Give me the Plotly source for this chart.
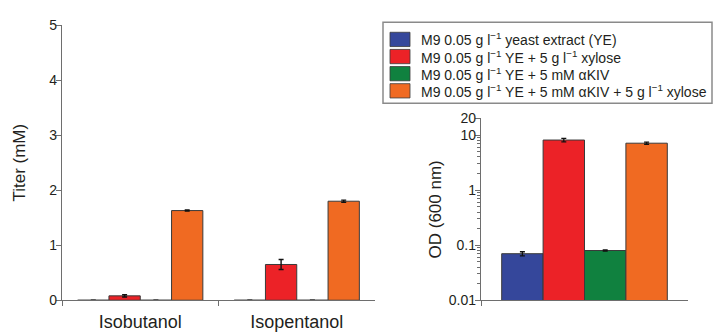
import plotly.graph_objects as go

# Conditions (legend order) and bar colours
conditions = [
    "M9 0.05 g l<sup>−1</sup> yeast extract (YE)",
    "M9 0.05 g l<sup>−1</sup> YE + 5 g l<sup>−1</sup> xylose",
    "M9 0.05 g l<sup>−1</sup> YE + 5 mM αKIV",
    "M9 0.05 g l<sup>−1</sup> YE + 5 mM αKIV + 5 g l<sup>−1</sup> xylose",
]
colors = ["#35479B", "#EC2227", "#10813F", "#F06A22"]

# Alcohol titers (mM) per condition
products = ["Isobutanol", "Isopentanol"]
titer = [
    [0.0, 0.0],
    [0.08, 0.65],
    [0.0, 0.0],
    [1.63, 1.80],
]
titer_err = [
    [0.0, 0.0],
    [0.02, 0.09],
    [0.0, 0.0],
    [0.01, 0.02],
]

# Final cell density OD600 per condition
od_category = ["OD"]
od = [0.070, 8.1, 0.080, 7.1]
od_err = [0.006, 0.6, 0.002, 0.3]

titer_ticks = [0, 1, 2, 3, 4, 5]
od_ticks = [0.01, 0.1, 1, 10, 20]
od_ticktext = ["0.01", "0.1", "1", "10", "20"]
od_minor = [m * d for d in (0.01, 0.1, 1) for m in range(2, 10)]

FONT = "Liberation Sans, Arial, sans-serif"
TXT = "#231F20"
AX = "#6E6E6E"
EDGE = "#3A3A3A"
W, H = 713, 333

fig = go.Figure()

for i, name in enumerate(conditions):
    fig.add_trace(go.Bar(
        x=products, y=titer[i], name=name, showlegend=False,
        marker=dict(color=colors[i], line=dict(color=EDGE, width=1)),
        error_y=dict(type="data", array=titer_err[i], color="#111111",
                     thickness=1.4, width=2.5),
        xaxis="x", yaxis="y", offsetgroup=str(i),
    ))

for i, name in enumerate(conditions):
    fig.add_trace(go.Bar(
        x=od_category, y=[od[i]], name=name, showlegend=False,
        marker=dict(color=colors[i], line=dict(color=EDGE, width=1)),
        error_y=dict(type="data", array=[od_err[i]], color="#111111",
                     thickness=1.3, width=2.5),
        xaxis="x2", yaxis="y2", offsetgroup=str(i),
    ))


def fx(p):
    return p / W


def fy(p):
    return 1 - p / H


# Legend box drawn as shapes + annotations (compact row spacing)
shapes = [dict(type="rect", xref="paper", yref="paper",
               x0=fx(383), x1=fx(712), y0=fy(100), y1=fy(15),
               line=dict(color="#8A8A8A", width=1.5), fillcolor="white")]
annotations = []
row0, row_step = 33, 18
for i, name in enumerate(conditions):
    yc = row0 + i * row_step
    shapes.append(dict(type="rect", xref="paper", yref="paper",
                       x0=fx(390), x1=fx(410), y0=fy(yc + 7.5), y1=fy(yc - 7.5),
                       line=dict(color=EDGE, width=0.8), fillcolor=colors[i]))
    annotations.append(dict(text=name, xref="paper", yref="paper",
                            x=fx(419), y=fy(yc), xanchor="left", yanchor="middle",
                            showarrow=False,
                            font=dict(size=14, family=FONT, color=TXT)))

axis_common = dict(showline=True, linecolor=AX, linewidth=1.3, showgrid=False,
                   zeroline=False, ticks="outside", tickcolor=AX, ticklen=5,
                   tickwidth=1.2)

fig.update_layout(
    width=W, height=H,
    margin=dict(l=0, r=0, t=0, b=0),
    paper_bgcolor="white", plot_bgcolor="white",
    font=dict(family=FONT, color=TXT, size=14),
    barmode="group", bargap=0.2, bargroupgap=0,
    showlegend=False,
    shapes=shapes, annotations=annotations,
    xaxis=dict(domain=[fx(62), fx(375)], anchor="y",
               tickson="boundaries", tickfont=dict(size=18),
               ticklabelstandoff=5, **axis_common),
    yaxis=dict(domain=[fy(307), fy(18)], anchor="x",
               range=[0, 5], tickvals=titer_ticks,
               title=dict(text="Titer (mM)", font=dict(size=17), standoff=19),
               tickfont=dict(size=14), ticklabelstandoff=-4, **axis_common),
    xaxis2=dict(domain=[fx(481), fx(688)], anchor="y2",
                tickson="boundaries", showticklabels=False, **axis_common),
    yaxis2=dict(domain=[fy(307), fy(116)], anchor="x2",
                type="log", range=[-2, 1.30103],
                tickvals=od_ticks, ticktext=od_ticktext,
                minor=dict(tickvals=od_minor, ticks="outside", ticklen=2.5,
                           tickcolor=AX, tickwidth=1),
                title=dict(text="OD (600 nm)", font=dict(size=17), standoff=2),
                tickfont=dict(size=14), ticklabelstandoff=-4, **axis_common),
)

fig.write_html("out.html")
